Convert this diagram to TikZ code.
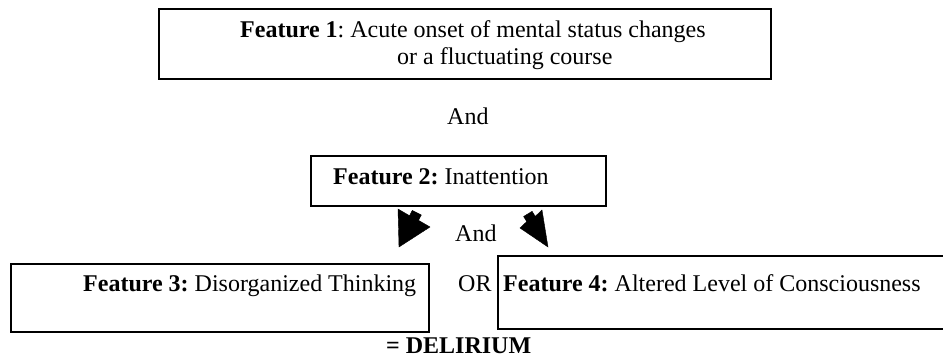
\documentclass[tikz,border=0pt]{standalone}
\usepackage{fontspec}
\setmainfont{Liberation Serif}
\frenchspacing
\begin{document}
\frenchspacing
\begin{tikzpicture}[x=1pt,y=-1pt,
  box/.style={draw, line width=1.8pt, inner sep=0pt, anchor=north west},
  txt/.style={font=\fontsize{24}{28}\selectfont, inner sep=0pt, anchor=base west},
  blockarrow/.style={fill=black, draw=black, line width=0.4pt, line join=miter}]
\useasboundingbox (0,0) rectangle (943,359);
\clip (0,0) rectangle (943,359);
% boxes
\node[box, minimum width=612pt, minimum height=70pt] (f1) at (158,8) {};
\node[box, minimum width=295pt, minimum height=50pt] (f2) at (310,155) {};
\node[box, minimum width=418pt, minimum height=68pt] (f3) at (10,263) {};
\node[box, minimum width=460pt, minimum height=73pt] (f4) at (497,255) {};
% texts
\node[txt] (t1a) at (240,37) {\textbf{Feature 1}: Acute onset of mental status changes};
\node[txt] (t1b) at (397,64) {or a fluctuating course};
\node[txt] (and1) at (447,124) {And};
\node[txt] (t2) at (333,184) {\textbf{Feature 2:} Inattention};
\node[txt] (and2) at (455,241) {And};
\node[txt] (t3) at (83,291) {\textbf{Feature 3:} Disorganized Thinking};
\node[txt] (or) at (458,291) {OR};
\node[txt] (t4) at (503,291) {\textbf{Feature 4:} Altered Level of Consciousness};
\node[txt] (del) at (386,353) {\textbf{= DELIRIUM}};
% block arrows
\draw[blockarrow] (399,247) -- (398,209) -- (409.5,215.7) -- (412.3,210.4) -- (421.3,215) -- (418.5,220.3) -- (430,227) -- cycle;
\draw[blockarrow] (548,247) -- (520,228) -- (526.75,221.6) -- (523.6,216.5) -- (532.1,211.3) -- (535.25,216.4) -- (542,210) -- cycle;
\end{tikzpicture}
\end{document}
